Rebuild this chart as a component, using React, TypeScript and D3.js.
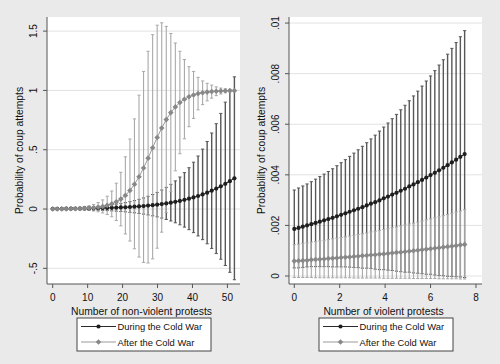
import React from "react";
import * as d3 from "d3";

// ---------- data ----------
const leftX = [0,1.3,2.6,3.9,5.2,6.5,7.8,9.1,10.4,11.7,13,14.3,15.6,16.9,18.2,19.5,20.8,22.1,23.4,24.7,26,27.3,28.6,29.9,31.2,32.5,33.8,35.1,36.4,37.7,39,40.3,41.6,42.9,44.2,45.5,46.8,48.1,49.4,50.7,52];
const duringNV = [0.0019,0.0022,0.0025,0.0028,0.0032,0.0037,0.0042,0.0048,0.0054,0.0062,0.0070,0.0080,0.0091,0.0103,0.0118,0.0134,0.0152,0.0173,0.0196,0.0223,0.0253,0.0288,0.0326,0.0370,0.0419,0.0474,0.0536,0.0607,0.0685,0.0773,0.0871,0.0980,0.1101,0.1235,0.1382,0.1545,0.1722,0.1915,0.2125,0.2351,0.2592];
const duringNVHi = [0.0059,0.0069,0.0079,0.0089,0.0103,0.0120,0.0138,0.0159,0.0180,0.0209,0.0238,0.0274,0.0315,0.0359,0.0415,0.0476,0.0544,0.0625,0.0713,0.0818,0.0936,0.1074,0.1226,0.1402,0.1601,0.1825,0.2080,0.2373,0.2699,0.3069,0.3484,0.3949,0.4470,0.5051,0.5694,0.6412,0.7198,0.8062,0.9010,1.0039,1.1146];
const duringNVLo = [-0.0021,-0.0025,-0.0029,-0.0033,-0.0039,-0.0046,-0.0054,-0.0063,-0.0072,-0.0085,-0.0098,-0.0114,-0.0133,-0.0153,-0.0179,-0.0208,-0.0240,-0.0279,-0.0321,-0.0372,-0.0430,-0.0498,-0.0574,-0.0662,-0.0763,-0.0877,-0.1008,-0.1159,-0.1329,-0.1523,-0.1742,-0.1989,-0.2268,-0.2581,-0.2930,-0.3322,-0.3754,-0.4232,-0.4760,-0.5337,-0.5962];
const afterNV = [0.0005,0.0007,0.0010,0.0014,0.0019,0.0027,0.0039,0.0055,0.0078,0.0110,0.0156,0.0220,0.0309,0.0434,0.0605,0.0838,0.115,0.156,0.208,0.272,0.346,0.429,0.517,0.603,0.683,0.754,0.813,0.861,0.898,0.926,0.947,0.962,0.973,0.981,0.986,0.990,0.993,0.995,0.997,0.998,0.998];
const afterNVHi = [0.0017,0.0024,0.0033,0.0047,0.0067,0.0095,0.0136,0.0192,0.0272,0.0385,0.0546,0.0770,0.1082,0.1519,0.2178,0.31,0.44,0.59,0.76,0.96,1.16,1.33,1.47,1.55,1.57,1.54,1.48,1.40,1.33,1.26,1.20,1.16,1.11,1.08,1.06,1.045,1.03,1.02,1.013,1.009,1.005];
const afterNVLo = [-0.0007,-0.0010,-0.0014,-0.0020,-0.0029,-0.0041,-0.0058,-0.0082,-0.0117,-0.0165,-0.0234,-0.0330,-0.0464,-0.0651,-0.0968,-0.142,-0.21,-0.27,-0.335,-0.405,-0.45,-0.455,-0.42,-0.33,-0.195,-0.03,0.146,0.322,0.466,0.592,0.694,0.764,0.836,0.88,0.912,0.935,0.956,0.97,0.98,0.987,0.991];

const rightX = [0,0.1875,0.375,0.5625,0.75,0.9375,1.125,1.3125,1.5,1.6875,1.875,2.0625,2.25,2.4375,2.625,2.8125,3,3.1875,3.375,3.5625,3.75,3.9375,4.125,4.3125,4.5,4.6875,4.875,5.0625,5.25,5.4375,5.625,5.8125,6,6.1875,6.375,6.5625,6.75,6.9375,7.125,7.3125,7.5];
const duringV = [0.00186,0.00190,0.00195,0.00200,0.00205,0.00210,0.00215,0.00220,0.00225,0.00230,0.00236,0.00242,0.00248,0.00254,0.00260,0.00266,0.00272,0.00279,0.00286,0.00292,0.00299,0.00307,0.00314,0.00322,0.00329,0.00337,0.00345,0.00354,0.00362,0.00371,0.00380,0.00389,0.00399,0.00408,0.00418,0.00428,0.00438,0.00449,0.00460,0.00471,0.00482];
const duringVHi = [0.00340,0.00348,0.00356,0.00364,0.00373,0.00383,0.00393,0.00403,0.00413,0.00424,0.00436,0.00448,0.00460,0.00473,0.00486,0.00499,0.00513,0.00527,0.00542,0.00557,0.00573,0.00589,0.00605,0.00622,0.00639,0.00657,0.00675,0.00693,0.00712,0.00731,0.00751,0.00771,0.00791,0.00812,0.00834,0.00855,0.00877,0.00900,0.00923,0.00946,0.00970];
const duringVLo = [0.00032,0.00032,0.00034,0.00036,0.00037,0.00037,0.00037,0.00037,0.00037,0.00036,0.00036,0.00036,0.00036,0.00035,0.00034,0.00033,0.00031,0.00031,0.00030,0.00027,0.00025,0.00025,0.00023,0.00022,0.00019,0.00017,0.00015,0.00015,0.00012,0.00011,0.00009,0.00007,0.00007,0.00004,0.00002,0.00001,-0.00001,-0.00002,-0.00003,-0.00004,-0.00006];
const afterV = [0.00059,0.00060,0.00061,0.00062,0.00064,0.00065,0.00066,0.00067,0.00069,0.00070,0.00071,0.00073,0.00074,0.00075,0.00077,0.00078,0.00080,0.00081,0.00083,0.00084,0.00086,0.00087,0.00089,0.00091,0.00093,0.00094,0.00096,0.00098,0.00100,0.00102,0.00104,0.00106,0.00108,0.00110,0.00112,0.00114,0.00116,0.00118,0.00120,0.00123,0.00125];
const afterVHi = [0.00124,0.00126,0.00129,0.00131,0.00134,0.00136,0.00139,0.00141,0.00144,0.00147,0.00149,0.00152,0.00155,0.00158,0.00161,0.00164,0.00167,0.00170,0.00174,0.00177,0.00180,0.00184,0.00187,0.00191,0.00194,0.00198,0.00202,0.00206,0.00209,0.00213,0.00217,0.00222,0.00226,0.00230,0.00234,0.00239,0.00243,0.00248,0.00253,0.00257,0.00262];
const afterVLo = [-0.00006,-0.00006,-0.00006,-0.00006,-0.00006,-0.00007,-0.00007,-0.00007,-0.00007,-0.00007,-0.00007,-0.00007,-0.00007,-0.00007,-0.00008,-0.00008,-0.00008,-0.00008,-0.00008,-0.00008,-0.00008,-0.00009,-0.00009,-0.00009,-0.00009,-0.00009,-0.00009,-0.00009,-0.00010,-0.00010,-0.00010,-0.00010,-0.00010,-0.00010,-0.00011,-0.00011,-0.00011,-0.00011,-0.00011,-0.00012,-0.00012];

const leftXTicks = [0, 10, 20, 30, 40, 50];
const leftXTickLabels = ["0", "10", "20", "30", "40", "50"];
const leftYTicks = [-0.5, 0, 0.5, 1, 1.5];
const leftYTickLabels = ["-.5", "0", ".5", "1", "1.5"];
const rightXTicks = [0, 2, 4, 6, 8];
const rightXTickLabels = ["0", "2", "4", "6", "8"];
const rightYTicks = [0, 0.002, 0.004, 0.006, 0.008, 0.01];
const rightYTickLabels = ["0", ".002", ".004", ".006", ".008", ".01"];
const seriesNames = ["During the Cold War", "After the Cold War"];
const yTitle = "Probability of coup attempts";

// ---------- styles ----------
const FONT = "'Liberation Sans', Arial, Helvetica, sans-serif";
const BG = "#eaeaea";
const DARK_BAR = "#575757";
const LIGHT_BAR = "#a9a9a9";
const DARK_MARK = "#1e1e1e";
const LIGHT_MARK = "#888888";
const DARK_LINE = "#2a2a2a";
const LIGHT_LINE = "#9a9a9a";
const AXIS = "#555";
const GRID = "#e2e2e2";

function Diamond({ cx, cy, r, fill }: { cx: number; cy: number; r: number; fill: string }) {
  return <path d={`M${cx},${cy - r}L${cx + r},${cy}L${cx},${cy + r}L${cx - r},${cy}Z`} fill={fill} />;
}

type PanelProps = {
  x0: number; x1: number; y0: number; y1: number;
  xDomain: [number, number]; yDomain: [number, number];
  xs: number[];
  dP: number[]; dHi: number[]; dLo: number[];
  aP: number[]; aHi: number[]; aLo: number[];
  xTicks: number[]; xTickLabels: string[];
  yTicks: number[]; yTickLabels: string[];
  xTitle: string;
  legendX: number;
};

function Panel(p: PanelProps) {
  const x = d3.scaleLinear().domain(p.xDomain).range([p.x0, p.x1]);
  const y = d3.scaleLinear().domain(p.yDomain).range([p.y1, p.y0]);
  const capW = 1.6;
  const line = (vals: number[]) =>
    d3.line<number>().x((_, i) => x(p.xs[i])).y((v) => y(v))(vals) || "";
  const caps = (lo: number[], hi: number[], color: string, sw: number, key: string) => (
    <g key={key} stroke={color} strokeWidth={sw} fill="none">
      {p.xs.map((xv, i) => {
        const cx = x(xv);
        return (
          <g key={i}>
            <line x1={cx} x2={cx} y1={y(lo[i])} y2={y(hi[i])} />
            <line x1={cx - capW} x2={cx + capW} y1={y(lo[i])} y2={y(lo[i])} strokeWidth={1} />
            <line x1={cx - capW} x2={cx + capW} y1={y(hi[i])} y2={y(hi[i])} strokeWidth={1} />
          </g>
        );
      })}
    </g>
  );
  const lx = p.legendX;
  const ly = 318;
  return (
    <g fontFamily={FONT}>
      <rect x={p.x0} y={p.y0} width={p.x1 - p.x0} height={p.y1 - p.y0} fill="#fff" />
      {p.yTicks.map((t, i) => (
        <line key={"g" + i} x1={p.x0} x2={p.x1} y1={y(t)} y2={y(t)} stroke={GRID} strokeWidth={1} />
      ))}
      {caps(p.dLo, p.dHi, DARK_BAR, 1.4, "dc")}
      {caps(p.aLo, p.aHi, LIGHT_BAR, 1.1, "ac")}
      <path d={line(p.dP)} stroke={DARK_LINE} strokeWidth={1} fill="none" />
      {p.xs.map((xv, i) => (
        <circle key={"dm" + i} cx={x(xv)} cy={y(p.dP[i])} r={2.1} fill={DARK_MARK} />
      ))}
      <path d={line(p.aP)} stroke={LIGHT_LINE} strokeWidth={1} fill="none" />
      {p.xs.map((xv, i) => (
        <Diamond key={"am" + i} cx={x(xv)} cy={y(p.aP[i])} r={2.8} fill={LIGHT_MARK} />
      ))}
      {/* axes */}
      <line x1={p.x0} x2={p.x0} y1={p.y0} y2={p.y1} stroke={AXIS} strokeWidth={1} />
      <line x1={p.x0} x2={p.x1} y1={p.y1} y2={p.y1} stroke={AXIS} strokeWidth={1} />
      {p.yTicks.map((t, i) => (
        <g key={"yt" + i}>
          <line x1={p.x0 - 4} x2={p.x0} y1={y(t)} y2={y(t)} stroke={AXIS} />
          <text
            transform={`translate(${p.x0 - 10.5},${y(t)}) rotate(-90)`}
            textAnchor="middle"
            fontSize={10}
            fill="#111"
          >
            {p.yTickLabels[i]}
          </text>
        </g>
      ))}
      {p.xTicks.map((t, i) => (
        <g key={"xt" + i}>
          <line x1={x(t)} x2={x(t)} y1={p.y1} y2={p.y1 + 4} stroke={AXIS} />
          <text x={x(t)} y={p.y1 + 16.5} textAnchor="middle" fontSize={10} fill="#111">
            {p.xTickLabels[i]}
          </text>
        </g>
      ))}
      <text
        x={(p.x0 + p.x1) / 2 - 2}
        y={p.y1 + 30.5}
        textAnchor="middle"
        fontSize={10.3}
        fill="#111"
      >
        {p.xTitle}
      </text>
      <text
        transform={`translate(${p.x0 - 24},${(p.y0 + p.y1) / 2}) rotate(-90)`}
        textAnchor="middle"
        fontSize={10.3}
        fill="#111"
      >
        {yTitle}
      </text>
      {/* legend */}
      <rect x={lx} y={ly} width={134} height={33} fill="#fff" stroke="#444" strokeWidth={1} />
      <line x1={lx + 4} x2={lx + 39} y1={ly + 8.5} y2={ly + 8.5} stroke={DARK_LINE} strokeWidth={1} />
      <circle cx={lx + 21.5} cy={ly + 8.5} r={2.1} fill={DARK_MARK} />
      <text x={lx + 40.5} y={ly + 12} fontSize={9.4} fill="#111">{seriesNames[0]}</text>
      <line x1={lx + 4} x2={lx + 39} y1={ly + 24} y2={ly + 24} stroke={LIGHT_LINE} strokeWidth={1} />
      <Diamond cx={lx + 21.5} cy={ly + 24} r={2.8} fill={LIGHT_MARK} />
      <text x={lx + 40.5} y={ly + 27.5} fontSize={9.4} fill="#111">{seriesNames[1]}</text>
    </g>
  );
}

export default function App() {
  return (
    <svg
      width={500}
      height={364}
      style={{ position: "absolute", left: 0, top: 0, display: "block" }}
    >
      <rect x={0} y={0} width={500} height={364} fill={BG} />
      <Panel
        x0={47} x1={240} y0={17} y1={284}
        xDomain={[-1.63, 53.6]} yDomain={[-0.632, 1.619]}
        xs={leftX}
        dP={duringNV} dHi={duringNVHi} dLo={duringNVLo}
        aP={afterNV} aHi={afterNVHi} aLo={afterNVLo}
        xTicks={leftXTicks} xTickLabels={leftXTickLabels}
        yTicks={leftYTicks} yTickLabels={leftYTickLabels}
        xTitle="Number of non-violent protests"
        legendX={77}
      />
      <Panel
        x0={289} x1={482} y0={17} y1={284}
        xDomain={[-0.233, 8.265]} yDomain={[-0.000316, 0.01024]}
        xs={rightX}
        dP={duringV} dHi={duringVHi} dLo={duringVLo}
        aP={afterV} aHi={afterVHi} aLo={afterVLo}
        xTicks={rightXTicks} xTickLabels={rightXTickLabels}
        yTicks={rightYTicks} yTickLabels={rightYTickLabels}
        xTitle="Number of violent protests"
        legendX={319}
      />
    </svg>
  );
}
